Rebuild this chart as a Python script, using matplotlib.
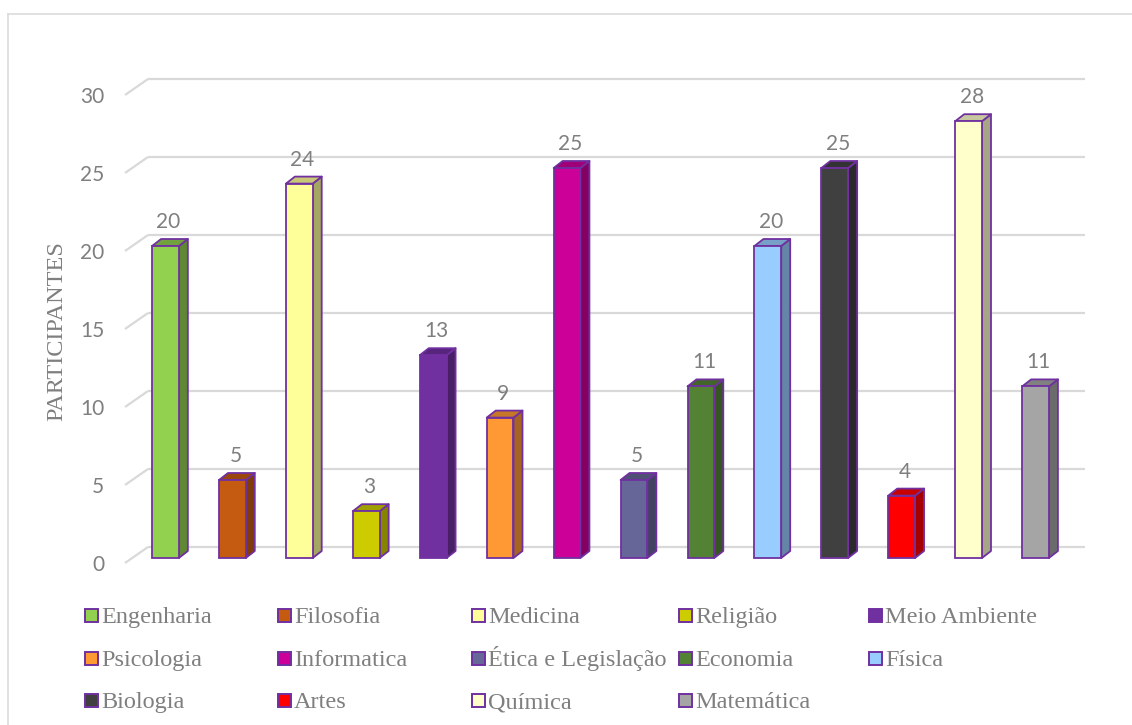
import numpy as np
import matplotlib
matplotlib.use("Agg")
import matplotlib.pyplot as plt
from matplotlib.patches import Polygon, Rectangle
from matplotlib.lines import Line2D
from matplotlib.colors import to_rgb

# --- dados ---
categorias = ["Engenharia", "Filosofia", "Medicina", "Religião", "Meio Ambiente",
              "Psicologia", "Informatica", "Ética e Legislação", "Economia", "Física",
              "Biologia", "Artes", "Química", "Matemática"]
participantes = [20, 5, 24, 3, 13, 9, 25, 5, 11, 20, 25, 4, 28, 11]
cores = ["#92D050", "#C55A11", "#FFFF99", "#CCCC00", "#7030A0",
         "#FF9933", "#CC0099", "#666699", "#548235", "#99CCFF",
         "#404040", "#FF0000", "#FFFFCC", "#A5A5A5"]
yticks = [0, 5, 10, 15, 20, 25, 30]

# --- estilo ---
ROXO = "#7030A0"
CINZA_TXT = "#7f7f7f"
CINZA_GRADE = "#d9d9d9"
plt.rcParams["font.family"] = ["Lato", "DejaVu Sans"]

W, H = 1132, 725


def escurecer(cor, f):
    r, g, b = to_rgb(cor)
    return (r * f, g * f, b * f)


fig = plt.figure(figsize=(W / 100, H / 100), dpi=100)
ax = fig.add_axes([125 / W, (H - 563) / H, 937 / W, 468 / H])
n = len(categorias)
ax.set_xlim(-0.5, n - 0.5)
ax.set_ylim(yticks[0], yticks[-1])

# conversao pixel -> dados (eixo de tamanho fixo)
px_x = n / 937
px_y = (yticks[-1] - yticks[0]) / 468

# parede do fundo (efeito 3D)
wx, wy = 23 * px_x, 16 * px_y
for t in yticks:
    ax.plot([-0.5, -0.5 + wx], [t, t + wy], color=CINZA_GRADE, lw=1.6,
            clip_on=False, zorder=1, solid_capstyle="butt")
    ax.plot([-0.5 + wx, n - 0.5 + wx], [t + wy, t + wy], color=CINZA_GRADE,
            lw=1.6, clip_on=False, zorder=1, solid_capstyle="butt")

# colunas 3D
x = np.arange(n)
bx, by = 7 * px_x, 5 * px_y      # deslocamento da face frontal
dx, dy = 9 * px_x, 7 * px_y      # profundidade da coluna
bars = ax.bar(x + bx, participantes, width=0.4, bottom=by, color=cores,
              edgecolor=ROXO, linewidth=1.3, zorder=3, clip_on=False)

for b, c, v in zip(bars, cores, participantes):
    x0, y0 = b.get_x(), b.get_y()
    w, h = b.get_width(), b.get_height()
    lado = Polygon([(x0 + w, y0), (x0 + w + dx, y0 + dy),
                    (x0 + w + dx, y0 + h + dy), (x0 + w, y0 + h)],
                   closed=True, facecolor=escurecer(c, 0.65), edgecolor=ROXO,
                   lw=1.3, zorder=2.5, clip_on=False, joinstyle="round")
    topo = Polygon([(x0, y0 + h), (x0 + dx, y0 + h + dy),
                    (x0 + w + dx, y0 + h + dy), (x0 + w, y0 + h)],
                   closed=True, facecolor=escurecer(c, 0.78), edgecolor=ROXO,
                   lw=1.3, zorder=2.5, clip_on=False, joinstyle="round")
    ax.add_patch(lado)
    ax.add_patch(topo)
    ax.annotate(str(v), (x0 + w / 2 + dx / 3, y0 + h), xytext=(0, 24),
                textcoords="offset pixels", ha="center", va="center",
                fontsize=15, color=CINZA_TXT, annotation_clip=False)

ax.set_yticks(yticks)
ax.set_xticks([])
ax.tick_params(axis="y", length=0, pad=15, labelsize=15, labelcolor=CINZA_TXT)
for s in ax.spines.values():
    s.set_visible(False)
ax.patch.set_visible(False)

# titulo do eixo
fig.text(57 / W, 1 - 331 / H, "PARTICIPANTES", rotation=90, ha="center",
         va="center", fontsize=17.5, color=CINZA_TXT, family="Liberation Serif")

# moldura da area do grafico
fig.add_artist(Line2D([8 / W, 1], [1 - 14 / H, 1 - 14 / H], transform=fig.transFigure,
                      color=CINZA_GRADE, lw=1.1))
fig.add_artist(Line2D([8 / W, 8 / W], [0, 1 - 14 / H], transform=fig.transFigure,
                      color=CINZA_GRADE, lw=1.1))

# legenda (5 colunas, preenchida por linha como no Excel)
col_x = [85, 278, 472, 679, 869]
row_y = [615, 658, 700]
for i, (nome, cor) in enumerate(zip(categorias, cores)):
    r, c = divmod(i, 5)
    cx, cy = col_x[c], row_y[r]
    fig.add_artist(Rectangle((cx / W, 1 - (cy + 6.5) / H), 13 / W, 13 / H,
                             transform=fig.transFigure, facecolor=cor,
                             edgecolor=ROXO, lw=1.4))
    fig.text((cx + 16) / W, 1 - (cy + 8) / H, nome, ha="left", va="baseline",
             fontsize=17.5, color=CINZA_TXT, family="Liberation Serif")

fig.savefig("out.png", dpi=100, facecolor="white")
